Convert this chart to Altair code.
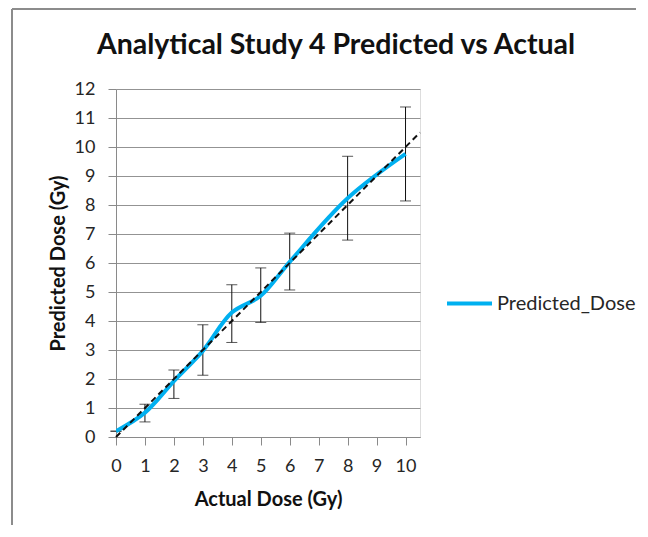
import altair as alt
import pandas as pd

# Data
actual = [0, 1, 2, 3, 4, 5, 6, 8, 10]
predicted = [0.2, 0.84, 1.93, 2.97, 4.29, 4.87, 6.04, 8.23, 9.76]
err_low = [0.2, 0.52, 1.33, 2.13, 3.26, 3.95, 5.07, 6.79, 8.14]
err_high = [0.2, 1.13, 2.31, 3.87, 5.25, 5.83, 7.03, 9.68, 11.38]
trend_x = [0, 10.5]
trend_y = [0, 10.5]
series_name = "Predicted_Dose"
x_ticks = list(range(0, 11))
y_ticks = list(range(0, 13))

FONT = "Lato"
BLUE = "#00B0F0"

df = pd.DataFrame({
    "actual": actual,
    "predicted": predicted,
    "low": err_low,
    "high": err_high,
    "series": [series_name] * len(actual),
})
trend = pd.DataFrame({"tx": trend_x, "ty": trend_y})

xscale = alt.Scale(domain=[0, 10.5], nice=False, zero=False)
yscale = alt.Scale(domain=[0, 12], nice=False)

x_axis = alt.Axis(values=x_ticks, title="Actual Dose (Gy)", grid=False,
                  tickSize=8, labelPadding=12, titlePadding=14,
                  labelFontSize=18, titleFontSize=20, titleFontWeight="bold",
                  labelColor="#262626", titleColor="#111111",
                  domainColor="#8a8a8a", tickColor="#8a8a8a", labelFlush=False,
                  labelOverlap=False)
y_axis = alt.Axis(values=y_ticks, title="Predicted Dose (Gy)", grid=True,
                  gridColor="#939393", gridWidth=1,
                  tickSize=8, labelPadding=13, titlePadding=6,
                  labelFontSize=18, titleFontSize=20, titleFontWeight="bold",
                  labelColor="#262626", titleColor="#111111",
                  domainColor="#8a8a8a", tickColor="#8a8a8a", labelFlush=False,
                  labelOverlap=False)

def X(field):
    return alt.X(field, type="quantitative", scale=xscale, axis=x_axis)

def Y(field):
    return alt.Y(field, type="quantitative", scale=yscale, axis=y_axis)

base = alt.Chart(df)

err_rule = base.mark_rule(color="#111111", strokeWidth=1).encode(
    x=X("actual"), y=Y("low"), y2="high:Q"
)
cap_low = base.mark_tick(color="#111111", thickness=1, size=11, orient="horizontal").encode(
    x=X("actual"), y=Y("low")
)
cap_high = base.mark_tick(color="#111111", thickness=1, size=11, orient="horizontal").encode(
    x=X("actual"), y=Y("high")
)

line = base.mark_line(strokeWidth=4, interpolate="catmull-rom", clip=True).encode(
    x=X("actual"),
    y=Y("predicted"),
    color=alt.Color("series:N",
                    scale=alt.Scale(domain=[series_name], range=[BLUE]),
                    legend=alt.Legend(title=None, orient="none", legendX=329, legendY=190,
                                      symbolType="stroke", symbolSize=2025,
                                      symbolStrokeWidth=4, labelFontSize=20,
                                      labelFont=FONT, labelColor="#262626",
                                      labelOffset=3)),
)

trend_line = alt.Chart(trend).mark_line(color="#111111", strokeWidth=2,
                                        strokeDash=[6, 4]).encode(
    x=X("tx"), y=Y("ty")
)

frame_left = alt.Chart(trend).mark_rule(color="#8c8c8c", strokeWidth=2, clip=False).encode(
    x=alt.value(-104), y=alt.value(-80), y2=alt.value(448)
)
frame_top = alt.Chart(trend).mark_rule(color="#8c8c8c", strokeWidth=2, clip=False).encode(
    x=alt.value(-104), x2=alt.value(540), y=alt.value(-80)
)

chart = alt.layer(
    err_rule, cap_low, cap_high, line, trend_line, frame_left, frame_top
).properties(
    width=304,
    height=348,
    title=alt.TitleParams("Analytical Study 4 Predicted vs Actual", fontSize=28.5,
                          fontWeight="bold", font=FONT, color="#111111",
                          anchor="middle", dx=68, offset=0, dy=74, frame="group",
                          baseline="alphabetic"),
    autosize=alt.AutoSizeParams(type="none"),
    padding={"left": 108, "top": 81, "right": 216, "bottom": 88},
).configure_view(
    stroke=None
).configure(
    font=FONT
).configure_axis(
    labelFont=FONT, titleFont=FONT
)

chart.save("out.html", embed_options={"renderer": "svg", "actions": False})
